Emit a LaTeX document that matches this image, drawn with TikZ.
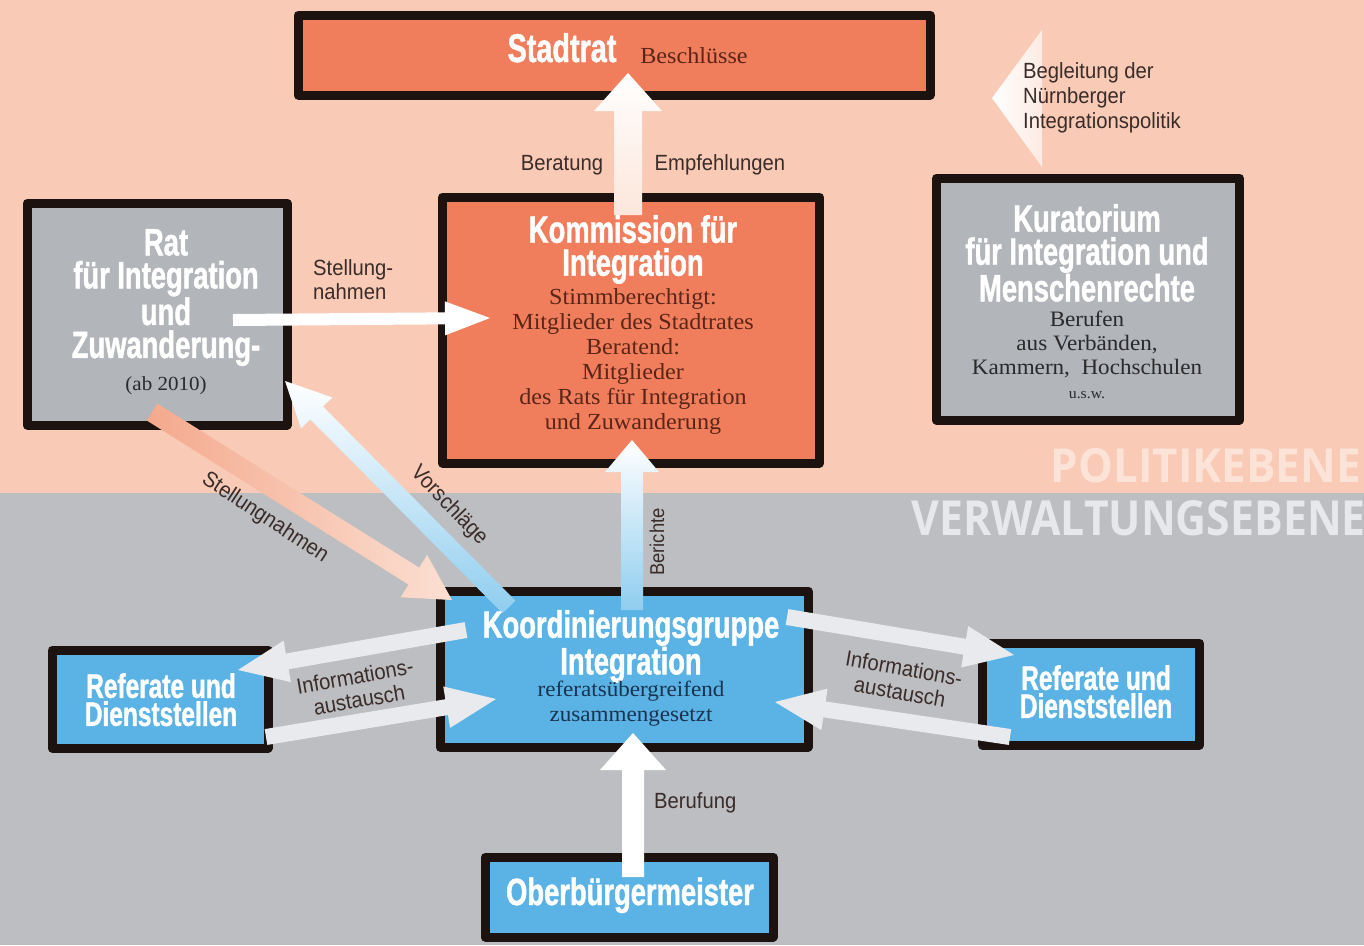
\documentclass[tikz,border=0pt]{standalone}
\usepackage{fontspec}
\usepackage{graphicx}
\usetikzlibrary{calc}
\newfontfamily\titlefont[FakeStretch=0.72,FakeBold=1.2]{Liberation Sans}
\newfontfamily\serfont[FakeStretch=1.05]{Liberation Serif}
\newfontfamily\labelfont[FakeStretch=0.92]{Liberation Sans}
\newfontfamily\levelfont[FakeStretch=0.9]{Open Sans}
\definecolor{bgtop}{HTML}{F9CAB6}
\definecolor{bgbot}{HTML}{BDBEC1}
\definecolor{orangeF}{HTML}{F07E5C}
\definecolor{grayF}{HTML}{B2B5B9}
\definecolor{blueF}{HTML}{5AB3E4}
\definecolor{boxline}{HTML}{1C1311}
\definecolor{labelc}{HTML}{3A2C29}
\definecolor{levelTop}{HTML}{FCE3D8}
\definecolor{levelBot}{HTML}{E7E8EC}
\definecolor{serBrown}{HTML}{5B2518}
\definecolor{serGray}{HTML}{2A2A2C}
\definecolor{serBlue}{HTML}{1A3350}
\definecolor{infoArrow}{HTML}{E9EAED}
\definecolor{peachEnd}{HTML}{FBDFD2}
\definecolor{peachStart}{HTML}{F4A98D}
\definecolor{salmonMid}{HTML}{EF8767}
\definecolor{lightBlue}{HTML}{8FCDEF}
\definecolor{pinkWhite}{HTML}{FCE6DB}
\definecolor{fadePink}{HTML}{FDEAE2}
% fat arrow: #1 options, #2 start, #3 tip, #4 half shaft, #5 half head, #6 head length
\newcommand{\fatarrow}[6]{%
  \coordinate (fabase) at ($(#3)!#6!(#2)$);
  \path[#1] ($(#2)!#4!90:(#3)$) -- ($(fabase)!#4!90:(#3)$) -- ($(fabase)!#5!90:(#3)$) -- (#3)
    -- ($(fabase)!#5!-90:(#3)$) -- ($(fabase)!#4!-90:(#3)$) -- ($(#2)!#4!-90:(#3)$) -- cycle;
}
\begin{document}
\begin{tikzpicture}[x=1pt,y=-1pt,
  boxn/.style={draw=boxline, line width=9pt, line join=round, rectangle, inner sep=0pt},
  ttl/.style={font=\titlefont\bfseries\fontsize{38}{33}\selectfont, text=white, align=center, inner sep=0pt},
  srf/.style={font=\serfont\fontsize{23}{25}\selectfont, align=center, inner sep=0pt},
  lbl/.style={font=\labelfont\fontsize{22}{24}\selectfont, text=labelc, inner sep=0pt},
  lvl/.style={font=\levelfont\bfseries, inner sep=0pt}]
\useasboundingbox (0,0) rectangle (1364,945);
% backgrounds
\fill[bgtop] (0,0) rectangle (1364,493);
\fill[bgbot] (0,493) rectangle (1364,945);
% level labels
\node[lvl, text=levelTop, anchor=base east] (politik) at (1361,482) {\resizebox{310pt}{34pt}{POLITIKEBENE}};
\node[lvl, text=levelBot, anchor=base east] (verwaltung) at (1366,535) {\resizebox{454pt}{35pt}{VERWALTUNGSEBENE}};
% boxes
\node[boxn, fill=orangeF, minimum width=632pt, minimum height=80pt] (stadtrat) at (614,55) {};
\node[boxn, fill=grayF, minimum width=260pt, minimum height=222pt] (rat) at (157,314) {};
\node[boxn, fill=orangeF, minimum width=377pt, minimum height=266pt] (komm) at (631,330) {};
\node[boxn, fill=grayF, minimum width=303pt, minimum height=242pt] (kurat) at (1088,299) {};
\node[boxn, fill=blueF, minimum width=368pt, minimum height=156pt] (koord) at (624,669) {};
\node[boxn, fill=blueF, minimum width=216pt, minimum height=98pt] (refL) at (160,699) {};
\node[boxn, fill=blueF, minimum width=217pt, minimum height=102pt] (refR) at (1091,694) {};
\node[boxn, fill=blueF, minimum width=288pt, minimum height=80pt] (ob) at (629,897) {};
% arrow end points
\coordinate (stS) at (628,215); \coordinate (stT) at (628,73);
\coordinate (beS) at (632,610); \coordinate (beT) at (632,440);
\coordinate (bfS) at (633,877); \coordinate (bfT) at (633,733);
\coordinate (shS) at (233,320); \coordinate (shT) at (490,318);
\coordinate (sdS) at (152,412); \coordinate (sdT) at (452,600);
\coordinate (voS) at (509,607); \coordinate (voT) at (285,381);
\coordinate (luS) at (466,630); \coordinate (luT) at (238,670);
\coordinate (llS) at (266,737); \coordinate (llT) at (496,699);
\coordinate (ruS) at (787,617); \coordinate (ruT) at (1014,655);
\coordinate (rlS) at (1010,737); \coordinate (rlT) at (775,702);
% arrows
\fatarrow{top color=white, bottom color=pinkWhite}{stS}{stT}{14pt}{34pt}{38pt}
\fatarrow{top color=white, bottom color=lightBlue}{beS}{beT}{11pt}{27pt}{32pt}
\fatarrow{fill=white}{bfS}{bfT}{11pt}{33pt}{37pt}
\fatarrow{fill=white}{shS}{shT}{6pt}{17pt}{45pt}
\fatarrow{left color=peachStart, middle color=salmonMid, right color=peachEnd}{sdS}{sdT}{10pt}{25pt}{45pt}
\fatarrow{top color=white, bottom color=lightBlue}{voS}{voT}{9pt}{22pt}{45pt}
\fatarrow{fill=infoArrow}{luS}{luT}{8pt}{21pt}{50pt}
\fatarrow{fill=infoArrow}{llS}{llT}{8pt}{21pt}{50pt}
\fatarrow{fill=infoArrow}{ruS}{ruT}{8pt}{21pt}{50pt}
\fatarrow{fill=infoArrow}{rlS}{rlT}{8pt}{21pt}{50pt}
% Begleitung arrow head
\shade[left color=white, right color=fadePink] (992,98) -- (1042,30) -- (1042,167) -- cycle;
% box texts
\node[ttl, anchor=base, font=\titlefont\bfseries\fontsize{40}{34}\selectfont] (tStadtrat) at (562,62) {Stadtrat};
\node[srf, text=serBrown, anchor=base] (tBeschl) at (694,63) {Beschlüsse};
\node[ttl, anchor=north] (tRat) at (166,229) {Rat\\für Integration\\und\\Zuwanderung-};
\node[srf, text=serGray, anchor=base, font=\serfont\fontsize{20}{22}\selectfont] (tAb) at (166,390) {(ab 2010)};
\node[ttl, anchor=north] (tKomm) at (633,215) {Kommission für\\Integration};
\node[srf, text=serBrown, anchor=north] (sKomm) at (633,288) {Stimmberechtigt:\\Mitglieder des Stadtrates\\Beratend:\\Mitglieder\\des Rats für Integration\\und Zuwanderung};
\node[ttl, anchor=north] (tKurat) at (1087,204) {Kuratorium\\für Integration und\\Menschenrechte};
\node[srf, text=serGray, anchor=north, font=\serfont\fontsize{22}{24}\selectfont] (sKurat) at (1087,311) {Berufen\\aus Verbänden,\\Kammern,\ \ Hochschulen\\{\fontsize{15}{15}\selectfont u.s.w.}};
\node[ttl, anchor=north] (tKoord) at (631,610) {Koordinierungsgruppe\\Integration};
\node[srf, text=serBlue, anchor=north, font=\serfont\fontsize{22}{25}\selectfont] (sKoord) at (631,681) {referatsübergreifend\\zusammengesetzt};
\node[ttl, anchor=north, font=\titlefont\bfseries\fontsize{34}{28}\selectfont] (tRefL) at (161,673) {Referate und\\Dienststellen};
\node[ttl, anchor=north, font=\titlefont\bfseries\fontsize{34}{28}\selectfont] (tRefR) at (1096,665) {Referate und\\Dienststellen};
\node[ttl, anchor=base] (tOb) at (630,905) {Oberbürgermeister};
% connector labels
\node[lbl, anchor=base] (lBeratung) at (562,170) {Beratung};
\node[lbl, anchor=base] (lEmpf) at (720,170) {Empfehlungen};
\node[lbl, anchor=north west, align=left] (lStell) at (313,259) {Stellung-\\nahmen};
\node[lbl, anchor=north west, align=left, font=\labelfont\fontsize{22}{25}\selectfont] (lBegl) at (1023,62) {Begleitung der\\Nürnberger\\Integrationspolitik};
\node[lbl, rotate=90, font=\labelfont\fontsize{20}{22}\selectfont] (lBerichte) at (657,542) {Berichte};
\node[lbl, anchor=base west] (lBeruf) at (654,808) {Berufung};
\node[lbl, rotate=-33.4] (lStell2) at (265,518) {Stellungnahmen};
\node[lbl, rotate=-46] (lVor) at (449,506) {Vorschläge};
\node[lbl, rotate=10, align=center] (lInfoL) at (357,688) {Informations-\\austausch};
\node[lbl, rotate=-10, align=center] (lInfoR) at (902,680) {Informations-\\austausch};
\end{tikzpicture}
\end{document}
